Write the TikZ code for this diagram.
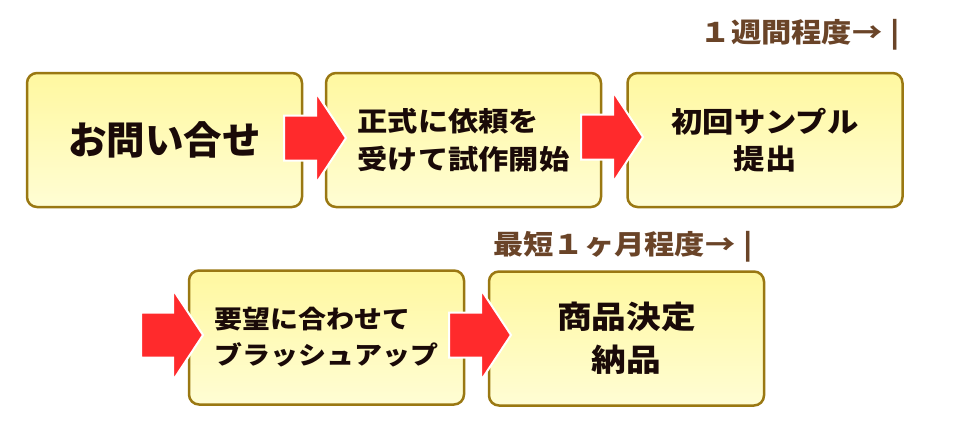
\documentclass[tikz,border=0pt]{standalone}
\usepackage{fontspec}
\newfontfamily\jp{Noto Sans CJK JP}[BoldFont={Noto Sans CJK JP Black}, FakeStretch=1.12]
\newfontfamily\jpn{Noto Sans CJK JP}[BoldFont={Noto Sans CJK JP Black}]
\definecolor{boxborder}{HTML}{9A7812}
\definecolor{boxtop}{HTML}{FFF8A0}
\definecolor{boxbot}{HTML}{FFFDD4}
\definecolor{arrowred}{HTML}{FF2A2C}
\definecolor{txt}{HTML}{1A0A08}
\definecolor{lbl}{HTML}{6A4428}
\tikzset{
  box/.style={draw=boxborder, line width=2.5pt, rounded corners=10pt,
    top color=boxtop, bottom color=boxbot, minimum width=275pt,
    minimum height=134pt, inner sep=0pt, text=txt},
  lbltext/.style={font=\jp\bfseries\fontsize{27}{30}\selectfont, text=lbl, inner sep=0pt},
  blockarrow/.pic={\filldraw[fill=arrowred, draw=white, line width=2pt, line join=miter]
    (-62,-22.5) -- (-30,-22.5) -- (-30,-45.5) -- (0,0) -- (-30,45.5) -- (-30,22.5)
    -- (-62,22.5) -- cycle;}
}
\begin{document}
\begin{tikzpicture}[x=1pt,y=-1pt]
\useasboundingbox (0,0) rectangle (960,432);
\node[box, font=\jpn\bfseries\fontsize{38.5}{40}\selectfont] (b1) at (164.5,140) {お問い合せ};
\node[box, font=\jp\bfseries\fontsize{27}{37.5}\selectfont, align=left] (b2) at (463.5,140) {正式に依頼を\\受けて試作開始};
\node[box, font=\jp\bfseries\fontsize{28}{37}\selectfont, align=center] (b3) at (765,140) {初回サンプル\\提出};
\node[box, font=\jp\bfseries\fontsize{25}{36}\selectfont, align=left] (b4) at (326.5,337.5) {要望に合わせて\\ブラッシュアップ};
\node[box, font=\jp\bfseries\fontsize{31}{43}\selectfont, align=center] (b5) at (626.5,338.5) {商品決定\\納品};
\coordinate (t1) at (346,138);
\coordinate (t2) at (643,137);
\coordinate (t3) at (203,335);
\coordinate (t4) at (511,335);
\pic at (t1) {blockarrow};
\pic at (t2) {blockarrow};
\pic at (t3) {blockarrow};
\pic at (t4) {blockarrow};
\node[lbltext, anchor=base east] (l1) at (900,42) {１週間程度→\hspace{8pt}|};
\node[lbltext, anchor=base east] (l2) at (753,254) {最短１ヶ月程度→\hspace{8pt}|};
\end{tikzpicture}
\end{document}
